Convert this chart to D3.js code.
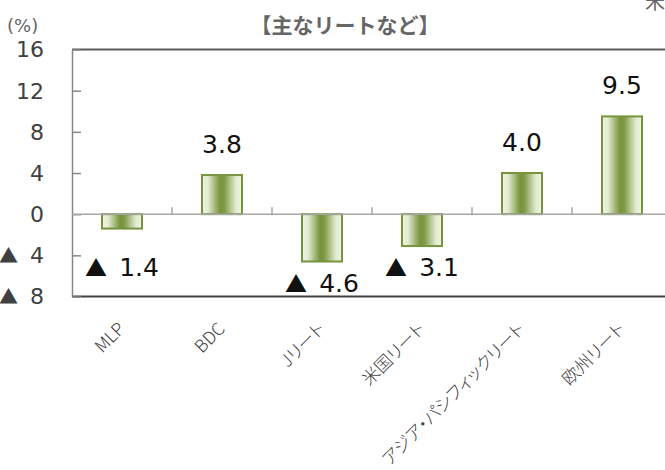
<!DOCTYPE html>
<html><head><meta charset="utf-8">
<script src="https://cdn.jsdelivr.net/npm/d3@7"></script>
<style>
html,body{margin:0;padding:0;background:#fff;overflow:hidden;}
svg{display:block;}
.cat{font-feature-settings:"palt" 1;}
</style></head>
<body>
<svg id="chart" width="665" height="470"></svg>
<script>
const categories = ["MLP", "BDC", "Jリート", "米国リート", "アジア・パシフィックリート", "欧州リート"];
const values = [-1.4, 3.8, -4.6, -3.1, 4.0, 9.5];
const yTicks = [16, 12, 8, 4, 0, -4, -8];
const title = "【主なリートなど】";
const unitLabel = "(%)";

(function () {
const svg = d3.select("#chart");
const W = 665, H = 470;
const pLeft = 72, pRight = 672, pTop = 49.5, pBottom = 296.5;

const x = d3.scaleBand().domain(categories).range([pLeft, pRight]).paddingInner(0.6).paddingOuter(0.3);
const y = d3.scaleLinear().domain([-8, 16]).range([pBottom, pTop]);

const defs = svg.append("defs");
const grad = defs.append("linearGradient").attr("id", "barGrad").attr("x1", "0%").attr("x2", "100%").attr("y1", "0%").attr("y2", "0%");
[["0%", "#eef3e2"], ["15%", "#e3ebd2"], ["45%", "#77933c"], ["55%", "#7c9842"], ["85%", "#e3ebd2"], ["100%", "#eef3e2"]].forEach(([o, c]) => grad.append("stop").attr("offset", o).attr("stop-color", c));

const FONT = "'DejaVu Sans', Verdana, sans-serif";
const JFONT = "'Noto Sans CJK JP', sans-serif";

// frame lines
svg.append("line").attr("x1", pLeft).attr("x2", W).attr("y1", pTop).attr("y2", pTop).attr("stroke", "#595959").attr("stroke-width", 2);
svg.append("line").attr("x1", pLeft).attr("x2", W).attr("y1", pBottom).attr("y2", pBottom).attr("stroke", "#404040").attr("stroke-width", 2);

// y axis
const yAxis = d3.axisRight(y).tickValues(yTicks).tickSize(9).tickSizeOuter(0).tickFormat("");
const yg = svg.append("g").attr("transform", `translate(${pLeft},0)`).call(yAxis);
yg.select(".domain").attr("stroke", "#868686").attr("stroke-width", 1.5);
yg.selectAll(".tick line").attr("stroke", "#868686").attr("stroke-width", 1.5);

// y tick labels
yTicks.forEach(t => {
  const tx = svg.append("text").attr("x", 44).attr("y", y(t)).attr("dy", "0.36em")
    .attr("text-anchor", "end").attr("font-family", FONT).attr("font-size", 22).attr("fill", "#404040");
  if (t < 0) {
    tx.append("tspan").attr("font-family", JFONT).attr("font-size", 19).text("▲");
    tx.append("tspan").attr("dx", 12).text(Math.abs(t));
  } else tx.text(t);
});

// bars
svg.append("g").selectAll("rect").data(values).join("rect")
  .attr("x", (d, i) => x(categories[i]))
  .attr("width", x.bandwidth())
  .attr("y", d => y(Math.max(0, d)))
  .attr("height", d => Math.abs(y(d) - y(0)))
  .attr("fill", "url(#barGrad)")
  .attr("stroke", "#77933c").attr("stroke-width", 2);

// zero line
const xAxis = d3.axisTop(x).tickSize(0).tickFormat("");
const xg = svg.append("g").attr("transform", `translate(0,${y(0)})`).call(xAxis);
xg.select(".domain").attr("stroke", "#a6a6a6").attr("stroke-width", 1.5).attr("d", `M${pLeft},0H${W}`);
// category boundary ticks
const step = x.step();
svg.append("g").selectAll("line").data(categories.slice(1)).join("line")
  .attr("x1", d => x(d) - (step - x.bandwidth()) / 2).attr("x2", d => x(d) - (step - x.bandwidth()) / 2)
  .attr("y1", y(0)).attr("y2", y(0) - 7)
  .attr("stroke", "#a6a6a6").attr("stroke-width", 1.5);

// value labels
values.forEach((v, i) => {
  const cx = x(categories[i]) + x.bandwidth() / 2;
  const by = v >= 0 ? y(v) - 22 : Math.max(y(v) + 30, y(-6));
  const t = svg.append("text").attr("x", cx).attr("y", by).attr("text-anchor", "middle")
    .attr("font-family", FONT).attr("font-size", 25).attr("fill", "#111");
  if (v < 0) {
    t.append("tspan").attr("font-family", JFONT).attr("font-size", 22).text("▲");
    t.append("tspan").attr("dx", 12).text(Math.abs(v).toFixed(1));
  } else t.text(v.toFixed(1));
});

// category labels
categories.forEach(c => {
  const cx = x(c) + x.bandwidth() / 2;
  svg.append("text").attr("class", "cat").attr("transform", `translate(${cx + 4},${330}) rotate(-45)`)
    .attr("text-anchor", "end").attr("font-family", JFONT).attr("font-size", 17.5).attr("font-weight", 300)
    .attr("fill", "#404040").text(c);
});

// title and unit
svg.append("text").attr("x", 345).attr("y", 33).attr("text-anchor", "middle")
  .attr("font-family", JFONT).attr("font-weight", "bold").attr("font-size", 21).attr("fill", "#666").text(title);
svg.append("text").attr("x", 7).attr("y", 32).attr("font-family", FONT).attr("font-size", 18)
  .attr("fill", "#666").text(unitLabel);
svg.append("text").attr("x", 655).attr("y", 9).attr("text-anchor", "middle")
  .attr("font-family", JFONT).attr("font-size", 20).attr("fill", "#666").text("米");
})();
</script>
</body></html>
